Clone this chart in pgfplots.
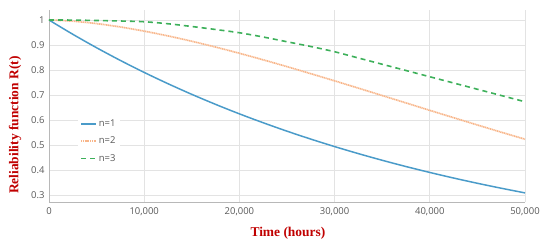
\documentclass[border=0pt]{standalone}
\usepackage{fontspec}
\setmainfont{Liberation Serif}
\newfontfamily\ticksfont{Open Sans}
\usepackage{pgfplots}
\pgfplotsset{compat=1.18}
\definecolor{c1}{HTML}{4A9BC9}
\definecolor{c2}{HTML}{F8B68A}
\definecolor{c3}{HTML}{3DB05A}
\definecolor{lbl}{HTML}{C00000}
\definecolor{tk}{HTML}{595959}
\definecolor{gridc}{HTML}{E3E3E3}
\definecolor{axc}{HTML}{B8B8B8}
\begin{document}
\begin{tikzpicture}
\path[use as bounding box] (-49bp,-47bp) rectangle (501bp,202bp);
\begin{axis}[
  scale only axis, width=476bp, height=192bp,
  xmin=0, xmax=50000, ymin=0.272, ymax=1.04,
  scaled x ticks=false, scaled y ticks=false,
  axis lines*=left,
  axis line style={axc, line width=1pt},
  xtick={0,10000,20000,30000,40000,50000},
  xticklabels={0,{10,000},{20,000},{30,000},{40,000},{50,000}},
  ytick={0.3,0.4,0.5,0.6,0.7,0.8,0.9,1},
  yticklabels={0.3,0.4,0.5,0.6,0.7,0.8,0.9,1},
  major tick length=0pt,
  grid=major,
  grid style={gridc, line width=0.8pt},
  tick label style={font=\ticksfont\fontsize{9.5}{10}\selectfont, text=tk},
  yticklabel style={xshift=-1bp},
  xticklabel style={yshift=-2bp},
  xlabel={Time (hours)},
  ylabel={Reliability function R(t)},
  every axis x label/.style={at={(axis description cs:0.502,-0.161)}, anchor=center,
    font=\bfseries\fontsize{13.5}{15}\selectfont, text=lbl},
  every axis y label/.style={at={(axis description cs:-0.0714,0.40)}, anchor=center, rotate=90,
    font=\bfseries\fontsize{13.5}{15}\selectfont, text=lbl},
  legend style={at={(axis description cs:0.061,0.45)}, anchor=north west,
    draw=none, fill=white, font=\ticksfont\fontsize{9.5}{10}\selectfont, text=tk,
    row sep=5bp, inner sep=2bp},
  legend cell align=left,
  legend image code/.code={\draw[#1] (0bp,0bp) -- (15bp,0bp);},
]
\addplot[c1, line width=1.5pt, smooth] coordinates {
(0,1.0) (2500,0.9429) (5000,0.8890) (7500,0.8382) (10000,0.7903) (12500,0.7452)
(15000,0.7026) (17500,0.6625) (20000,0.6246) (22500,0.5890) (25000,0.5553)
(27500,0.5236) (30000,0.4937) (32500,0.4655) (35000,0.4389) (37500,0.4138)
(40000,0.3902) (42500,0.3679) (45000,0.3469) (47500,0.3271) (50000,0.3084)};
\addlegendentry{n=1}
\addplot[c2, line width=1.7pt, dash pattern=on 1.2pt off 0.6pt, smooth] coordinates {
(0,1.0) (2500,0.9954) (5000,0.9856) (7500,0.9721) (10000,0.9555) (12500,0.9363)
(15000,0.9150) (17500,0.8917) (20000,0.8669) (22500,0.8407) (25000,0.8135)
(27500,0.7853) (30000,0.7566) (32500,0.7274) (35000,0.6979) (37500,0.6683)
(40000,0.6386) (42500,0.6092) (45000,0.5801) (47500,0.5513) (50000,0.5231)};
\addlegendentry{n=2}
\addplot[c3, line width=1.6pt, dash pattern=on 5bp off 4bp, smooth] coordinates {
(0,1.0) (2500,0.9997) (5000,0.998) (7500,0.996) (10000,0.993) (12500,0.985)
(15000,0.974) (17500,0.962) (20000,0.949) (22500,0.932) (25000,0.913)
(27500,0.894) (30000,0.873) (32500,0.848) (35000,0.823) (37500,0.798)
(40000,0.773) (42500,0.748) (45000,0.723) (47500,0.698) (50000,0.673)};
\addlegendentry{n=3}
\end{axis}
\end{tikzpicture}
\end{document}
